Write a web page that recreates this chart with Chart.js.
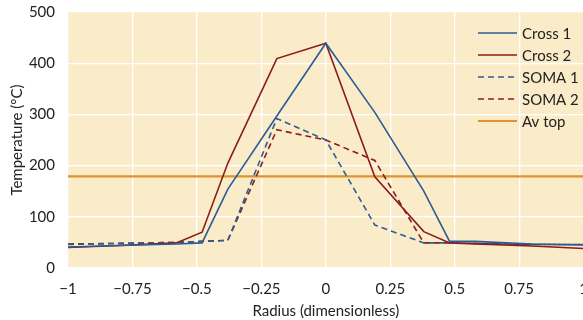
<!DOCTYPE html>
<html>
<head>
<meta charset="utf-8">
<script src="https://cdn.jsdelivr.net/npm/chart.js@4"></script>
<style>
  html, body { margin: 0; padding: 0; background: #fff; overflow: hidden; }
  #wrap { width: 600px; height: 320px; }
</style>
</head>
<body>
<div id="wrap"><canvas id="tempChart" width="600" height="320"></canvas></div>
<script>
const radius = [-1, -0.8, -0.58, -0.48, -0.38, -0.19, 0, 0.19, 0.38, 0.48, 0.58, 0.8, 1];
const cross1 = [41, 44, 47, 49, 154, 297, 439, 304, 150, 52, 52, 47, 45];
const cross2 = [40, 44, 49, 70, 205, 409, 439, 178, 71, 49, 47, 43, 38];
const soma1 = [46, 48, 50, 52, 54, 292, 250, 84, 49, 49, 48, 46, 46];
const soma2 = [47, 48, 50, 52, 54, 270, 250, 210, 49, 49, 48, 46, 46];
const avTop = 179;
const seriesNames = ['Cross 1', 'Cross 2', 'SOMA 1', 'SOMA 2', 'Av top'];

const BLUE = '#2b5c96';
const RED = '#8a1c1c';
const ORANGE = '#e0922c';
const FONT = 'Lato, "Open Sans", sans-serif';

function pts(ys) {
  return radius.map((x, i) => ({ x: x, y: ys[i] }));
}

// plot background
const plotBg = {
  id: 'plotBg',
  beforeDraw(chart) {
    const a = chart.chartArea;
    const c = chart.ctx;
    c.save();
    c.fillStyle = '#fbecc9';
    c.fillRect(a.left, a.top, a.right - a.left, a.bottom - a.top);
    c.restore();
  }
};

// legend drawn inside the plot, top right
const innerLegend = {
  id: 'innerLegend',
  afterDraw(chart) {
    const c = chart.ctx;
    const x0 = 478, x1 = 517, tx = 522;
    let y = 33;
    c.save();
    c.font = '15px ' + FONT;
    c.textBaseline = 'middle';
    chart.data.datasets.forEach(ds => {
      c.strokeStyle = ds.borderColor;
      c.lineWidth = ds.borderWidth;
      c.setLineDash(ds.borderDash || []);
      c.beginPath();
      c.moveTo(x0, y);
      c.lineTo(x1, y);
      c.stroke();
      c.setLineDash([]);
      c.fillStyle = '#222';
      c.fillText(ds.label, tx, y + 1);
      y += 22;
    });
    c.restore();
  }
};

new Chart(document.getElementById('tempChart'), {
  type: 'scatter',
  data: {
    datasets: [
      { label: seriesNames[0], data: pts(cross1), borderColor: BLUE, borderWidth: 1.6 },
      { label: seriesNames[1], data: pts(cross2), borderColor: RED, borderWidth: 1.6 },
      { label: seriesNames[2], data: pts(soma1), borderColor: BLUE, borderWidth: 1.6, borderDash: [6, 4] },
      { label: seriesNames[3], data: pts(soma2), borderColor: RED, borderWidth: 1.6, borderDash: [6, 4] },
      { label: seriesNames[4], data: [{ x: -1, y: avTop }, { x: 1, y: avTop }], borderColor: ORANGE, borderWidth: 2.2 }
    ].map(ds => Object.assign(ds, { showLine: true, pointRadius: 0, fill: false, tension: 0 }))
  },
  options: {
    responsive: false,
    animation: false,
    layout: { padding: { top: 12, right: 12, left: 0, bottom: 0 } },
    plugins: { legend: { display: false }, tooltip: { enabled: false } },
    scales: {
      x: {
        type: 'linear',
        min: -1,
        max: 1,
        border: { display: false },
        grid: { color: '#ffffff', lineWidth: 1.3, drawTicks: false },
        ticks: {
          stepSize: 0.25,
          padding: 12,
          color: '#222',
          font: { family: FONT, size: 15 },
          maxRotation: 0,
          callback: v => String(v).replace('-', '\u2212')
        },
        title: { display: true, text: 'Radius (dimensionless)', color: '#222', font: { family: FONT, size: 15 }, padding: { top: 3, bottom: 0 } },
        afterFit(scale) {
          scale.height = 52;
        }
      },
      y: {
        min: 0,
        max: 500,
        border: { display: false },
        grid: { color: '#ffffff', lineWidth: 1.3, drawTicks: false },
        ticks: { stepSize: 100, padding: 13, color: '#222', font: { family: FONT, size: 15 } },
        title: { display: true, text: 'Temperature (°C)', color: '#222', font: { family: FONT, size: 15 }, padding: { top: 8, bottom: 3 } },
        afterFit(scale) {
          scale.width = 68;
          scale.paddingTop = 0;
          scale.paddingBottom = 0;
        }
      }
    }
  },
  plugins: [plotBg, innerLegend]
});
</script>
</body>
</html>
